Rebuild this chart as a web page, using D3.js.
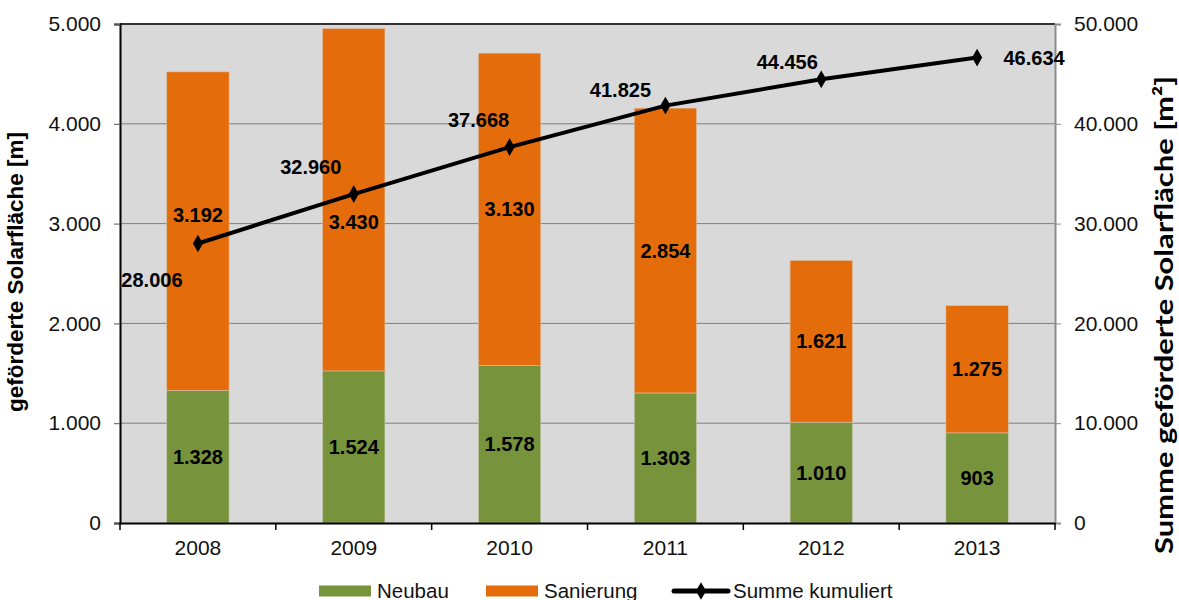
<!DOCTYPE html>
<html>
<head>
<meta charset="utf-8">
<script src="https://cdn.jsdelivr.net/npm/d3@7"></script>
<style>
  body { margin: 0; background: #fff; }
  text { font-family: "Liberation Sans", Arial, sans-serif; }
</style>
</head>
<body>
<div id="chart"></div>
<script>
// data
var years = ["2008", "2009", "2010", "2011", "2012", "2013"];
var neubau = [1328, 1524, 1578, 1303, 1010, 903];
var sanierung = [3192, 3430, 3130, 2854, 1621, 1275];
var summe = [28006, 32960, 37668, 41825, 44456, 46634];
var leftTicks = [0, 1000, 2000, 3000, 4000, 5000];
var rightTicks = [0, 10000, 20000, 30000, 40000, 50000];

// label placement (layout only)
var sumLabelOffset = [[-46, 36], [-43, -27], [-31, -27], [-45, -16], [-34, -17], [57, 0]];
var sanLabelNudge = [-16, 22, 0, 0, 0, 0];

var W = 1179, H = 600;
var margin = {top: 24, right: 124, bottom: 77, left: 120};
var width = W - margin.left - margin.right;
var height = H - margin.top - margin.bottom;

var fmt = d3.formatLocale({decimal: ",", thousands: ".", grouping: [3], currency: ["", "€"]}).format(",");

var svg = d3.select("#chart").append("svg")
    .attr("width", W)
    .attr("height", H);

var g = svg.append("g")
    .attr("transform", "translate(" + margin.left + "," + margin.top + ")");

var x = d3.scaleBand().domain(years).range([0, width]).paddingInner(0.6).paddingOuter(0.3);
var y = d3.scaleLinear().domain([0, 5000]).range([height, 0]);
var y2 = d3.scaleLinear().domain([0, 50000]).range([height, 0]);

// plot background
g.append("rect")
    .attr("width", width)
    .attr("height", height)
    .attr("fill", "#d9d9d9");

// gridlines
g.selectAll(".grid")
    .data(leftTicks.slice(1))
    .enter().append("line")
    .attr("x1", 0).attr("x2", width)
    .attr("y1", d => y(d)).attr("y2", d => y(d))
    .attr("stroke", d => d == 5000 ? "#333" : "#7f7f7f")
    .attr("stroke-width", d => d == 5000 ? 2 : 1);

// stacked bars
var stack = years.map((yr, i) => ({year: yr, n: neubau[i], s: sanierung[i], i: i}));

g.selectAll(".neu")
    .data(stack)
    .enter().append("rect")
    .attr("x", d => x(d.year))
    .attr("width", x.bandwidth())
    .attr("y", d => y(d.n))
    .attr("height", d => y(0) - y(d.n))
    .attr("fill", "#77933c")
    .attr("stroke", "#c8c8b4")
    .attr("stroke-width", 0.6);

g.selectAll(".san")
    .data(stack)
    .enter().append("rect")
    .attr("x", d => x(d.year))
    .attr("width", x.bandwidth())
    .attr("y", d => y(d.n + d.s))
    .attr("height", d => y(d.n) - y(d.n + d.s))
    .attr("fill", "#e46c0a")
    .attr("stroke", "#d8c0a8")
    .attr("stroke-width", 0.6);

// bar labels
g.selectAll(".neuLab")
    .data(stack)
    .enter().append("text")
    .attr("x", d => x(d.year) + x.bandwidth() / 2)
    .attr("y", d => y(d.n / 2))
    .attr("dy", "0.35em")
    .attr("text-anchor", "middle")
    .attr("font-size", 20)
    .attr("font-weight", "bold")
    .text(d => fmt(d.n));

g.selectAll(".sanLab")
    .data(stack)
    .enter().append("text")
    .attr("x", d => x(d.year) + x.bandwidth() / 2)
    .attr("y", d => y(d.n + d.s / 2) + sanLabelNudge[d.i])
    .attr("dy", "0.35em")
    .attr("text-anchor", "middle")
    .attr("font-size", 20)
    .attr("font-weight", "bold")
    .text(d => fmt(d.s));

// axes
var yAxis = g.append("g")
    .call(d3.axisLeft(y).tickValues(leftTicks).tickSize(6).tickPadding(13).tickFormat(fmt));
yAxis.select(".domain").attr("stroke", "#000").attr("stroke-width", 2);
yAxis.selectAll(".tick line").attr("stroke", "#555");
yAxis.selectAll("text").attr("font-size", 21).attr("fill", "#111");

var yAxis2 = g.append("g")
    .attr("transform", "translate(" + width + ",0)")
    .call(d3.axisRight(y2).tickValues(rightTicks).tickSize(6).tickPadding(13).tickFormat(fmt));
yAxis2.select(".domain").attr("stroke", "#8c8c8c").attr("stroke-width", 2);
yAxis2.selectAll(".tick line").attr("stroke", "#8c8c8c");
yAxis2.selectAll("text").attr("font-size", 21).attr("fill", "#111");

var xAxis = g.append("g")
    .attr("transform", "translate(0," + height + ")")
    .call(d3.axisBottom(x).tickSize(0).tickPadding(17));
xAxis.select(".domain").attr("stroke", "#000").attr("stroke-width", 2);
xAxis.selectAll("text").attr("font-size", 21).attr("fill", "#111");

// category boundary ticks
var step = x.step();
g.selectAll(".xtick")
    .data(d3.range(years.length + 1))
    .enter().append("line")
    .attr("x1", d => d * step).attr("x2", d => d * step)
    .attr("y1", height).attr("y2", height + 7)
    .attr("stroke", "#000")
    .attr("stroke-width", 1.5);

// cumulative line
var cx = (d, i) => x(years[i]) + x.bandwidth() / 2;
var line = d3.line().x(cx).y(d => y2(d));

g.append("path")
    .datum(summe)
    .attr("d", line)
    .attr("fill", "none")
    .attr("stroke", "#000")
    .attr("stroke-width", 4);

var diamond = d3.symbol().type(d3.symbolDiamond).size(90);
g.selectAll(".mark")
    .data(summe)
    .enter().append("path")
    .attr("d", diamond)
    .attr("transform", (d, i) => "translate(" + cx(d, i) + "," + y2(d) + ")")
    .attr("fill", "#000");

g.selectAll(".sumLab")
    .data(summe)
    .enter().append("text")
    .attr("x", (d, i) => cx(d, i) + sumLabelOffset[i][0])
    .attr("y", (d, i) => y2(d) + sumLabelOffset[i][1])
    .attr("dy", "0.35em")
    .attr("text-anchor", "middle")
    .attr("font-size", 20)
    .attr("font-weight", "bold")
    .text(d => fmt(d));

// axis titles
svg.append("text")
    .attr("transform", "translate(23,272) rotate(-90)")
    .attr("text-anchor", "middle")
    .attr("font-size", 22.5)
    .attr("font-weight", "bold")
    .text("geförderte Solarfläche [m]");

svg.append("text")
    .attr("transform", "translate(1173,315) rotate(-90)")
    .attr("text-anchor", "middle")
    .attr("font-size", 25)
    .attr("font-weight", "bold")
    .attr("textLength", 478)
    .attr("lengthAdjust", "spacingAndGlyphs")
    .style("font-family", "Lato, 'Open Sans', sans-serif")
    .text("Summe geförderte Solarfläche [m²]");

// legend
var legend = svg.append("g").attr("transform", "translate(0,591)");
var legItems = [
  {name: "Neubau", color: "#77933c", x: 319, type: "rect"},
  {name: "Sanierung", color: "#e46c0a", x: 486, type: "rect"},
  {name: "Summe kumuliert", color: "#000", x: 674, type: "line"}
];
legItems.forEach(function(it) {
  if (it.type == "rect") {
    legend.append("rect")
      .attr("x", it.x).attr("y", -5.5)
      .attr("width", 52).attr("height", 11)
      .attr("fill", it.color);
  } else {
    legend.append("line")
      .attr("x1", it.x).attr("x2", it.x + 54)
      .attr("y1", 0).attr("y2", 0)
      .attr("stroke", "#000").attr("stroke-width", 5)
      .attr("stroke-linecap", "round");
    legend.append("path")
      .attr("d", diamond)
      .attr("transform", "translate(" + (it.x + 27) + ",0)")
      .attr("fill", "#000");
  }
  legend.append("text")
    .attr("x", it.x + (it.type == "rect" ? 58 : 59))
    .attr("y", 0)
    .attr("dy", "0.35em")
    .attr("font-size", 20.5)
    .attr("fill", "#111")
    .text(it.name);
});
</script>
</body>
</html>
